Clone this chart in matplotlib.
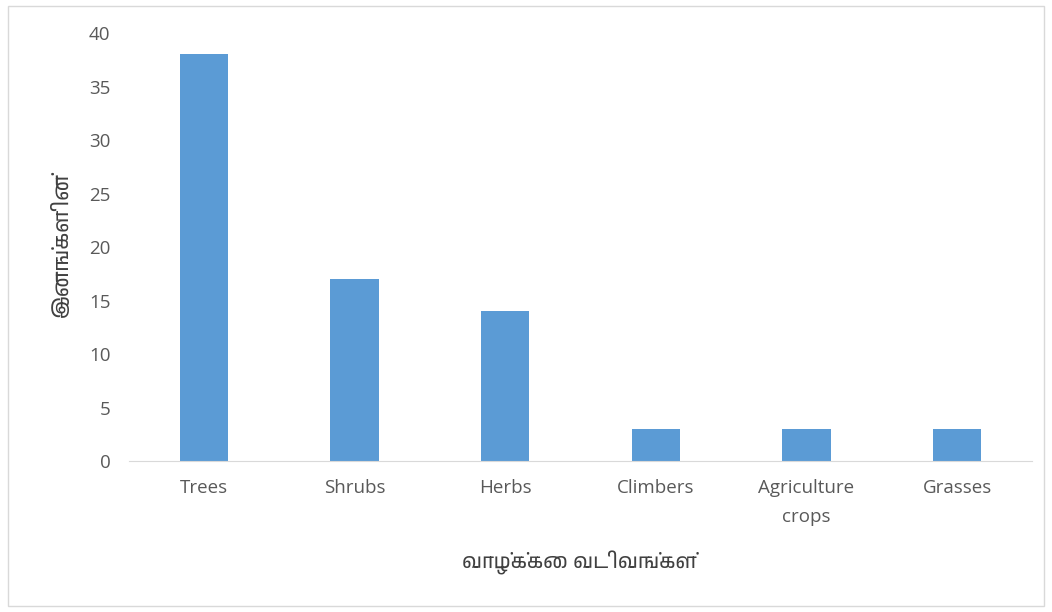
import matplotlib
matplotlib.use("Agg")
import matplotlib.pyplot as plt
from matplotlib import font_manager
from matplotlib.patches import Rectangle

# data
categories = ['Trees', 'Shrubs', 'Herbs', 'Climbers', 'Agriculture\ncrops', 'Grasses']
counts = [38, 17, 14, 3, 3, 3]
y_ticks = [0, 5, 10, 15, 20, 25, 30, 35, 40]
x_title = 'வாழ்க்கை வடிவங்கள்'
y_title = 'இனங்களின்'

# look for any installed font with Tamil glyphs, fall back to DejaVu
tamil = [f.name for f in font_manager.fontManager.ttflist if 'Tamil' in f.name]
fams = ['Open Sans', 'DejaVu Sans']
tamil_fams = tamil[:1] + ['DejaVu Sans']
plt.rcParams['font.family'] = fams

fig = plt.figure(figsize=(10.52, 6.12), dpi=100)
ax = fig.add_axes([0.1223, 0.2467, 0.859, 0.6993])

x = range(len(categories))
ax.bar(x, counts, width=0.32, color='#5B9BD5')

ax.set_xlim(-0.5, len(categories) - 0.5)
ax.set_ylim(0, 40)
ax.set_yticks(y_ticks)
ax.set_xticks(list(x))
ax.set_xticklabels(categories, linespacing=1.75)

ax.tick_params(axis='y', length=0, labelsize=13.5, labelcolor='#595959', pad=13)
ax.tick_params(axis='x', length=0, labelsize=13.5, labelcolor='#595959', pad=13)

for s in ['top', 'right', 'left']:
    ax.spines[s].set_visible(False)
ax.spines['bottom'].set_color('#D9D9D9')

fig.text(0.059, 0.60, y_title, rotation=90, ha='center', va='center',
         fontsize=15, color='#404040', family=tamil_fams, style='italic')
fig.text(0.551, 0.08, x_title, ha='center', va='center',
         fontsize=14.5, color='#404040', family=tamil_fams, style='italic')

# outer chart border
fig.patches.append(Rectangle((0.008, 0.01), 0.984, 0.98, transform=fig.transFigure,
                             fill=False, edgecolor='#D9D9D9', linewidth=1))

fig.savefig('out.png', dpi=100)
